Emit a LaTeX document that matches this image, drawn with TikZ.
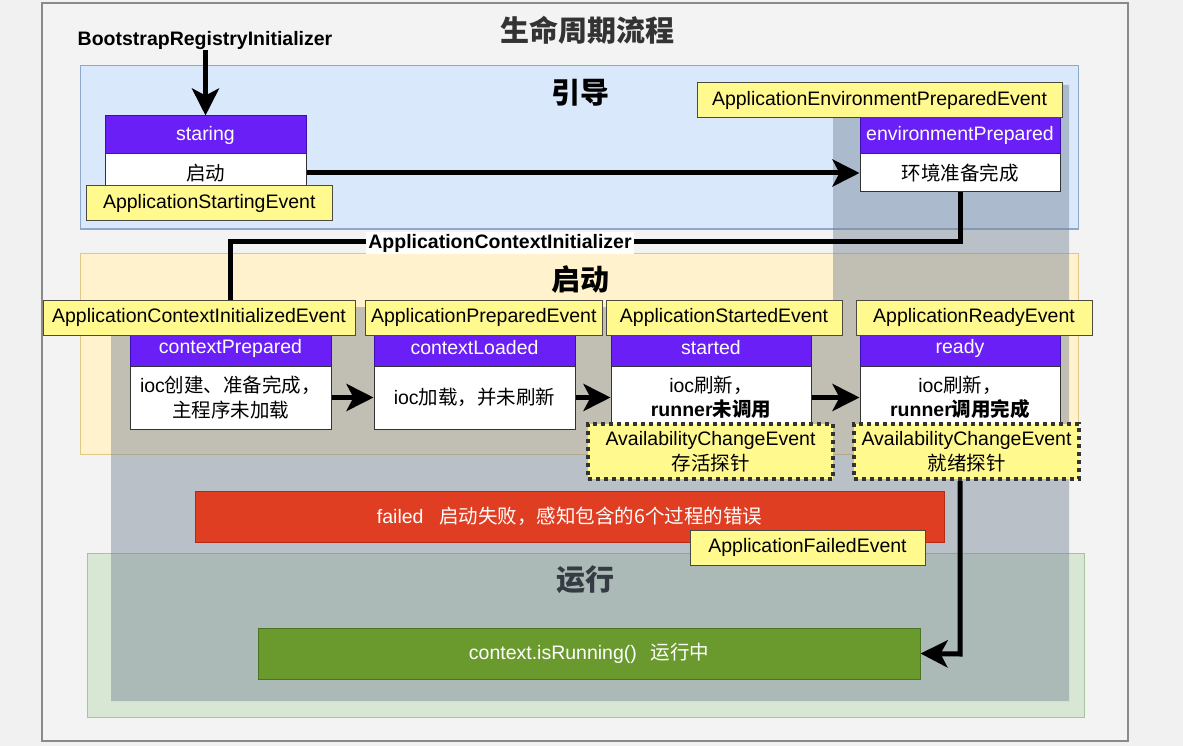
\documentclass[tikz,border=0pt]{standalone}
\usepackage{fontspec}
\setmainfont{Liberation Sans}
\newfontfamily\cjk{Noto Sans CJK SC}
\usetikzlibrary{arrows.meta}
\pgfdeclarelayer{bg}\pgfdeclarelayer{ov}\pgfdeclarelayer{conn}
\pgfsetlayers{bg,ov,conn,main}
\definecolor{pagebg}{HTML}{F1F1F1}
\definecolor{framebg}{HTML}{F3F3F3}
\definecolor{frameln}{HTML}{8A8A8A}
\definecolor{bluefill}{HTML}{DAE8FC}
\definecolor{blueln}{HTML}{8EA8CC}
\definecolor{yelfill}{HTML}{FFF2CC}
\definecolor{yelln}{HTML}{E0C888}
\definecolor{grnfill}{HTML}{D7E7D3}
\definecolor{grnln}{HTML}{A9C49A}
\definecolor{ovcol}{RGB}{118,131,149}
\definecolor{evtfill}{HTML}{FFF98E}
\definecolor{evtln}{HTML}{4A4A40}
\definecolor{hdrfill}{HTML}{6A1FF6}
\definecolor{hdrln}{HTML}{3A10B0}
\definecolor{redfill}{HTML}{E03E22}
\definecolor{redln}{HTML}{B52A14}
\definecolor{runfill}{HTML}{6A9A2E}
\definecolor{runln}{HTML}{4A7520}
\newcommand\zh[1]{{\cjk #1}}
\newcommand\fs{\fontsize{19.5pt}{24.5pt}\selectfont}
\tikzset{
  grp/.style={line width=1pt},
  grptitle/.style={font=\fontsize{29pt}{32pt}\selectfont\bfseries\cjk, inner sep=0pt},
  evt/.style={draw=evtln, fill=evtfill, line width=1pt, minimum height=35pt, inner sep=0pt, font=\fs},
  probe/.style={draw=black!80, fill=evtfill, line width=4pt, dash pattern=on 4pt off 4pt, minimum height=55pt, inner sep=0pt, font=\fs, align=center},
  hdr/.style={draw=hdrln, fill=hdrfill, text=white, line width=1pt, inner sep=0pt, minimum width=201pt, font=\fs},
  bodybox/.style={draw=black!80, fill=white, line width=1pt, inner sep=0pt, minimum width=201pt, font=\fs, align=center},
  flow/.style={line width=5pt, -{Stealth[length=27pt,width=27pt,inset=7pt]}},
  plainline/.style={line width=5pt}
}
\begin{document}
\begin{tikzpicture}[x=1pt,y=-1pt]
\useasboundingbox (0,0) rectangle (1183,746);
\begin{pgfonlayer}{bg}
  \fill[pagebg] (0,0) rectangle (1183,746);
  \draw[frameln, fill=framebg, line width=1.5pt] (42,3) rectangle (1128,741);
  \draw[grp, blueln, fill=bluefill] (80,66) rectangle (1078,229);
  \draw[grp, yelln, fill=yelfill] (80,253) rectangle (1078,454);
  \draw[grp, grnln, fill=grnfill] (87,553) rectangle (1084,717);
\end{pgfonlayer}
\node[grptitle, text=black!80] (title) at (587,30) {生命周期流程};
\begin{pgfonlayer}{bg}
  \node[grptitle] (tyd) at (580,93) {引导};
  \node[grptitle] (tqd) at (580,280) {启动};
  \node[grptitle] (tyx) at (585,580) {运行};
\end{pgfonlayer}
\begin{pgfonlayer}{ov}
  \fill[ovcol, opacity=0.45] (833,85) -- (1069,85) -- (1069,701) -- (111,701) -- (111,307) -- (833,307) -- cycle;
\end{pgfonlayer}

% bootstrap
\node[font=\fs\bfseries, inner sep=0pt] (boot) at (205,41) {BootstrapRegistryInitializer};

% top row
\node[hdr, minimum height=38pt] (starh) at (205.5,135) {staring};
\node[bodybox, minimum height=38pt] (starb) at (205.5,173) {\zh{启动}};
\node[evt, minimum width=245.5pt] (ase) at (209.25,203.5) {ApplicationStartingEvent};

\node[hdr, minimum height=38pt, minimum width=200pt] (envh) at (960,135) {environmentPrepared};
\node[bodybox, minimum height=38pt, minimum width=200pt] (envb) at (960,173) {\zh{环境准备完成}};
\node[evt, minimum width=365pt] (aepe) at (879.5,100.5) {ApplicationEnvironmentPreparedEvent};

\node[fill=white, inner sep=2pt, font=\fs\bfseries] (acil) at (500,243) {ApplicationContextInitializer};

% middle row
\node[hdr, minimum height=36pt] (cph) at (230.5,348) {contextPrepared};
\node[bodybox, minimum height=63pt] (cpb) at (230.5,397.5) {ioc\zh{创建、准备完成，}\\\zh{主程序未加载}};
\node[hdr, minimum height=36pt] (clh) at (474.5,348) {contextLoaded};
\node[bodybox, minimum height=63pt] (clb) at (474.5,397.5) {ioc\zh{加载，并未刷新}};
\node[hdr, minimum height=36pt, minimum width=200pt] (sth) at (711,348) {started};
\node[bodybox, minimum height=63pt, minimum width=200pt] (stb) at (711,397.5) {ioc\zh{刷新，}\\\textbf{runner\zh{未调用}}};
\node[hdr, minimum height=36pt, minimum width=200pt] (rdh) at (960,348) {ready};
\node[bodybox, minimum height=63pt, minimum width=200pt] (rdb) at (960,397.5) {ioc\zh{刷新，}\\\textbf{runner\zh{调用完成}}};

\node[evt, minimum width=312pt] (acie) at (199,317.5) {ApplicationContextInitializedEvent};
\node[evt, minimum width=236.5pt] (ape) at (483.75,317.5) {ApplicationPreparedEvent};
\node[evt, minimum width=236pt] (aste) at (724,317.5) {ApplicationStartedEvent};
\node[evt, minimum width=236pt] (are) at (974,317.5) {ApplicationReadyEvent};

\node[probe, minimum width=245pt] (av1) at (710.5,451.5) {AvailabilityChangeEvent\\\zh{存活探针}};
\node[probe, minimum width=225pt] (av2) at (966.5,451.5) {AvailabilityChangeEvent\\\zh{就绪探针}};

% failed & running
\node[draw=redln, fill=redfill, line width=1pt, minimum width=749pt, minimum height=51pt, text=white, font=\fs, inner sep=0pt] (fail) at (569.5,516.5) {failed\hspace{0.8em}\zh{启动失败，感知包含的6个过程的错误}};
\node[evt, minimum width=235pt] (afe) at (807.5,547.5) {ApplicationFailedEvent};
\node[draw=runln, fill=runfill, line width=1pt, minimum width=662pt, minimum height=51pt, text=white, font=\fs, inner sep=0pt] (run) at (589,653.5) {context.isRunning()\hspace{0.7em}\zh{运行中}};

% connectors
\coordinate (k1) at (960,241);
\coordinate (k2) at (230,241);
\coordinate (k3) at (960,654);
\begin{pgfonlayer}{conn}
  \draw[flow] (boot.south -| starh.north) -- (starh.north);
  \draw[flow] (starb.east) -- (envb.west);
  \draw[plainline] (envb.south) -- (k1) -- (k2) -- (k2 |- acie.north);
  \draw[flow] (cpb.east) -- (clb.west);
  \draw[flow] (clb.east) -- (stb.west);
  \draw[flow] (stb.east) -- (rdb.west);
  \draw[flow] (k3 |- av2.south) -- (k3) -- (run.east);
\end{pgfonlayer}
\end{tikzpicture}
\end{document}
